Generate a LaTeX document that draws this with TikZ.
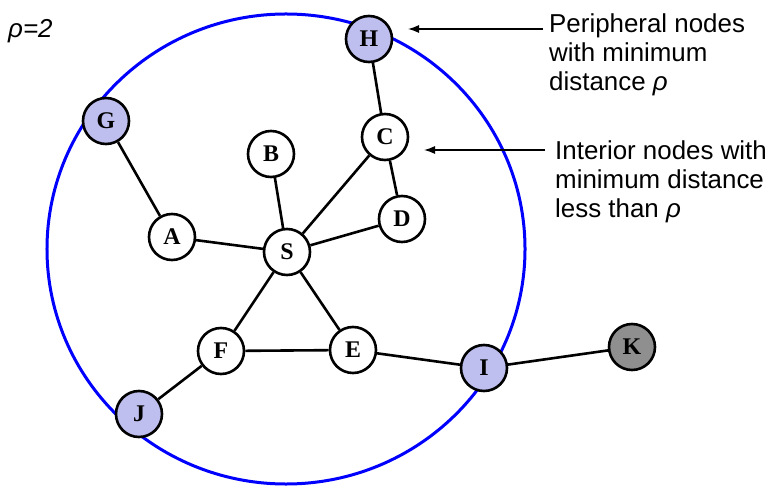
\documentclass[tikz,border=0pt]{standalone}
\usepackage{fontspec}
\setmainfont{Liberation Serif}
\setsansfont{Liberation Sans}
\usetikzlibrary{arrows.meta}

\definecolor{periphfill}{RGB}{191,191,239}
\definecolor{outerfill}{RGB}{143,143,143}

\tikzset{
  vertex/.style={circle,draw,line width=2.6bp,minimum size=46bp,inner sep=0pt,fill=white,
    font=\fontsize{24}{24}\selectfont\bfseries},
  periph/.style={vertex,fill=periphfill},
  outside/.style={vertex,fill=outerfill},
  link/.style={line width=2.6bp},
  note/.style={align=left,anchor=base west,inner sep=0pt,
    font=\sffamily\fontsize{26}{29.5}\selectfont},
  pointer/.style={line width=1.3bp,-{Latex[length=11bp,width=8bp]}},
}

\begin{document}
\begin{tikzpicture}[x=1bp,y=-1bp]
            \useasboundingbox (0,0) rectangle (774,486);
            %
            \draw [blue,line width=3bp] (286,249) ellipse [x radius=239bp,y radius=235bp];
            %
            \node (H) at (369,39) [periph] {H};
            \node (G) at (106,121) [periph] {G};
            \node (C) at (385,137) [vertex] {C};
            \node (B) at (271,154) [vertex] {B};
            \node (D) at (402,219) [vertex] {D};
            \node (A) at (172,237) [vertex] {A};
            \node (S) at (287,252) [vertex] {S};
            \node (F) at (221,351) [vertex] {F};
            \node (E) at (353,350) [vertex] {E};
            \node (I) at (484,368) [periph] {I};
            \node (K) at (632,347) [outside] {K};
            \node (J) at (139,414) [periph] {J};
            %
            \draw [link] (H) to (C);
            \draw [link] (G) to (A);
            \draw [link] (A) to (S);
            \draw [link] (B) to (S);
            \draw [link] (C) to (S);
            \draw [link] (C) to (D);
            \draw [link] (D) to (S);
            \draw [link] (S) to (F);
            \draw [link] (S) to (E);
            \draw [link] (F) to (E);
            \draw [link] (F) to (J);
            \draw [link] (E) to (I);
            \draw [link] (I) to (K);
            %
            \node (rho) at (8,38) [note] {\itshape ρ=2};
            \node (periphnote) at (549,91) [note] {Peripheral nodes\\with minimum\\distance {\itshape ρ}};
            \node (interiornote) at (555,218) [note] {Interior nodes with\\minimum distance\\less than {\itshape ρ}};
            %
            \coordinate (periphtail) at (543,29);
            \coordinate (periphtip) at (408,29);
            \coordinate (interiortail) at (545,150);
            \coordinate (interiortip) at (424,150);
            \draw [pointer] (periphtail) to (periphtip);
            \draw [pointer] (interiortail) to (interiortip);
            %
\end{tikzpicture}
\end{document}
